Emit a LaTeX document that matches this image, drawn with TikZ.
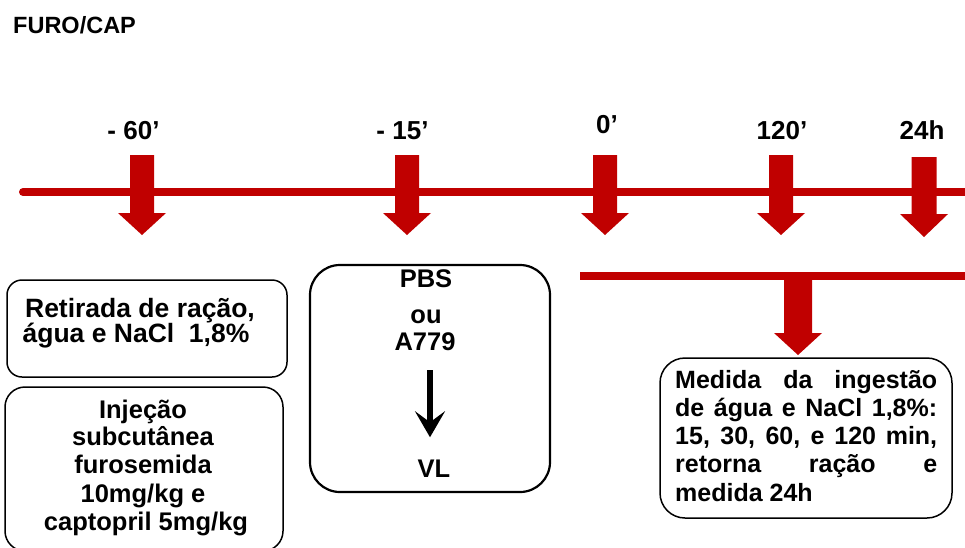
\documentclass[tikz,border=0pt]{standalone}
\usepackage{fontspec}
\setmainfont{Liberation Sans}
\usetikzlibrary{arrows.meta}
\definecolor{darkred}{RGB}{192,0,0}

% red block arrow pointing down: centre x, top y, head top y, tip y, half shaft width
\newcommand\blockarrow[5]{%
  \fill[darkred] (#1-#5,#2) -- (#1+#5,#2) -- (#1+#5,#3) -- (#1+24,#3)
    -- (#1,#4) -- (#1-24,#3) -- (#1-#5,#3) -- cycle;}

\begin{document}
\begin{tikzpicture}[x=1pt,y=-1pt,
  titletext/.style={font=\bfseries\fontsize{23.5}{26}\selectfont, inner sep=0pt},
  lbl/.style={font=\bfseries\fontsize{26}{28}\selectfont, inner sep=0pt, anchor=base},
  txt/.style={font=\bfseries\fontsize{25.5}{28}\selectfont, inner sep=0pt, anchor=base},
  bigtxt/.style={txt, font=\bfseries\fontsize{26.5}{28}\selectfont},
  jtxt/.style={font=\bfseries\fontsize{25}{28}\selectfont, inner sep=0pt, anchor=base west},
  roundbox/.style={draw=black, line width=1.5pt},
  timeline/.style={draw=darkred, line width=8pt}]
\useasboundingbox (0,0) rectangle (965,547);
\clip (0,0) rectangle (965,547);

% title
\node[titletext, anchor=base west] (title) at (13,33) {FURO/CAP};

% time labels
\node[lbl] (l60)  at (133.5,139) {- 60’};
\node[lbl] (l15)  at (402.5,139) {- 15’};
\node[lbl] (l0)   at (607,133)   {0’};
\node[lbl] (l120) at (782,139)   {120’};
\node[lbl] (l24)  at (922,139)   {24h};

% main time line and its markers
\coordinate (tstart) at (23,192);
\coordinate (tend) at (980,192);
\draw[timeline, line cap=round] (tstart) -- (tend);
\blockarrow{142}{155}{213}{235}{12}
\blockarrow{407}{155}{213}{235}{12}
\blockarrow{605}{155}{213}{235}{12}
\blockarrow{781}{155}{213}{235}{12}
\blockarrow{924}{157}{214}{237}{12.5}

% measurement period line
\coordinate (mstart) at (580,276);
\coordinate (mend) at (980,276);
\draw[timeline] (mstart) -- (mend);
\blockarrow{798}{276}{333}{355}{14}

% boxes
\draw[roundbox, rounded corners=15pt] (7,280) rectangle (287,377);
\draw[roundbox, rounded corners=20pt] (5,387) rectangle (283,551);
\draw[roundbox, line width=2.2pt, rounded corners=30pt] (310,265) rectangle (550,492);
\draw[roundbox, rounded corners=25pt] (660,358) rectangle (952,518);

% box 1
\node[bigtxt] (b1a) at (140,317) {Retirada de ração,};
\node[bigtxt] (b1b) at (136,342) {água e NaCl\ \ 1,8\%};

% box 2
\node[txt] (b2a) at (143,418) {Injeção};
\node[txt] (b2b) at (143,445) {subcutânea};
\node[txt] (b2c) at (143,473) {furosemida};
\node[txt] (b2d) at (143,502) {10mg/kg e};
\node[txt] (b2e) at (146,530) {captopril 5mg/kg};

% box 3
\node[txt] (pbs)  at (426,287) {PBS};
\node[txt] (ou)   at (426,323) {ou};
\node[txt] (a779) at (425,350) {A779};
\node[txt] (vl)   at (434,477) {VL};
\draw[line width=6pt, -{Stealth[length=26pt,width=30pt,inset=11pt]},
      shorten <=20pt, shorten >=22pt] (a779.south -| 430,0) -- (vl.north -| 430,0);

% box 4
\node[jtxt] (b4a) at (675,388) {\makebox[262pt][s]{Medida da ingestão}};
\node[jtxt] (b4b) at (675,416) {\makebox[262pt][s]{de água e NaCl 1,8\%:}};
\node[jtxt] (b4c) at (675,444) {\makebox[262pt][s]{15, 30, 60, e 120 min,}};
\node[jtxt] (b4d) at (675,472) {\makebox[262pt][s]{retorna ração e}};
\node[jtxt] (b4e) at (675,501) {medida 24h};
\end{tikzpicture}
\end{document}
